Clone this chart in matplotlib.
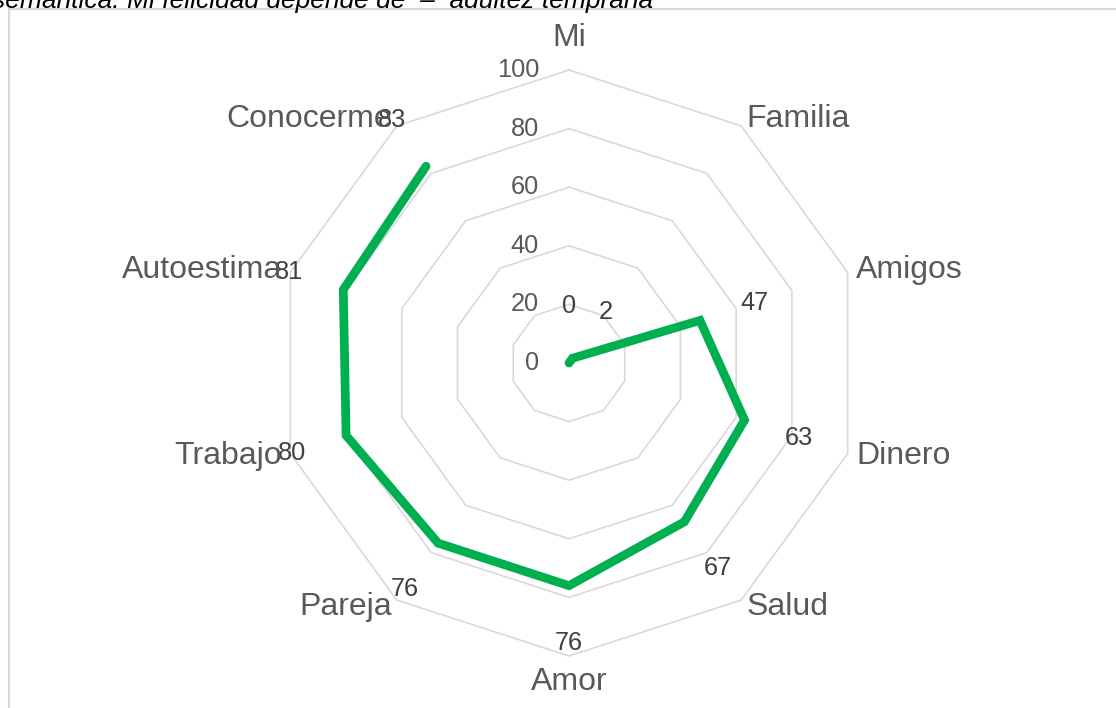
import numpy as np
import matplotlib
matplotlib.use('Agg')
import matplotlib.pyplot as plt
from matplotlib.patches import Rectangle

plt.rcParams['font.family'] = ['Liberation Sans', 'DejaVu Sans']

categories = ['Mi', 'Familia', 'Amigos', 'Dinero', 'Salud', 'Amor',
              'Pareja', 'Trabajo', 'Autoestima', 'Conocerme']
values = [0, 2, 47, 63, 67, 76, 76, 80, 81, 83]
ticks = [0, 20, 40, 60, 80, 100]
title = 'semántica: Mi felicidad depende de  –  adultez temprana'

W, H, DPI = 1116, 708, 100
cx, cy = 569, 363          # centre of the radar in pixels
scale = 2.93               # pixels per value unit

fig = plt.figure(figsize=(W / DPI, H / DPI), dpi=DPI)
fig.patch.set_facecolor('white')
ax = fig.add_axes([0, 0, 1, 1])
ax.set_xlim(-cx / scale, (W - cx) / scale)
ax.set_ylim(-(H - cy) / scale, cy / scale)
ax.axis('off')

n = len(categories)
theta = np.pi / 2 - 2 * np.pi * np.arange(n) / n
cos, sin = np.cos(theta), np.sin(theta)

# decagon grid rings
for t in ticks[1:]:
    xs = np.append(t * cos, t * cos[0])
    ys = np.append(t * sin, t * sin[0])
    ax.plot(xs, ys, color='#d9d9d9', lw=1.2, zorder=1)

# radial axis labels
for t in ticks:
    ax.text(-10.2, t, str(t), ha='right', va='center', fontsize=18.3,
            color='#595959', zorder=3)

# series line (left open, as drawn)
v = np.array(values, dtype=float)
ax.plot(v * cos, v * sin, color='#00b050', lw=6.3, solid_capstyle='round',
        solid_joinstyle='miter', zorder=2)

# data labels
for i, val in enumerate(values):
    r = val + 19.5
    ax.text(r * cos[i], r * sin[i], str(val), ha='center', va='center',
            fontsize=18.3, color='#404040', zorder=4)

# category labels
for i, name in enumerate(categories):
    c, s = cos[i], sin[i]
    if abs(c) < 1e-6:
        r = 111 if s > 0 else 109
        ha = 'center'
    else:
        r = 103
        ha = 'left' if c > 0 else 'right'
    ax.text(r * c, r * s, name, ha=ha, va='center', fontsize=23,
            color='#595959', zorder=4)

# chart area border
fig.patches.append(Rectangle((9 / W, -0.1), 2, 1 - 9 / H + 0.1,
                             transform=fig.transFigure, fill=False,
                             edgecolor='#d9d9d9', lw=1.5))

fig.text(653 / W, 1 - 8 / H, title, ha='right', va='baseline',
         fontsize=19, style='italic', color='black')

fig.savefig('out.png', dpi=DPI)
